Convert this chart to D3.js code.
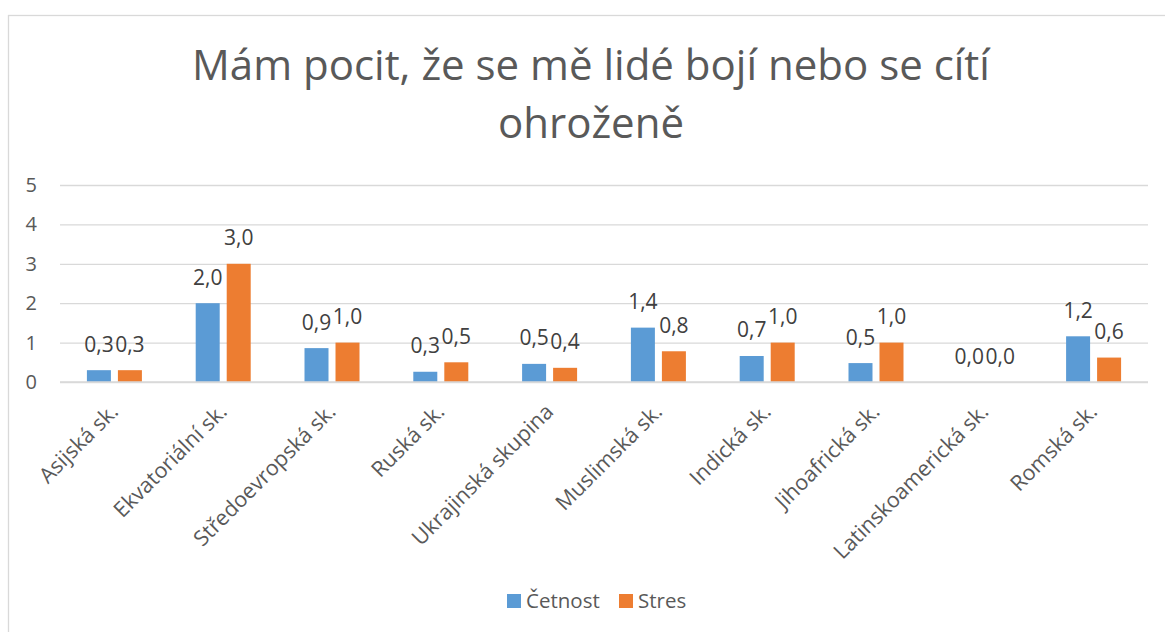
<!DOCTYPE html>
<html>
<head>
<meta charset="utf-8">
<script src="https://cdn.jsdelivr.net/npm/d3@7"></script>
<style>
  body { margin: 0; background: #fff; }
  text { font-family: "Open Sans", sans-serif; }
</style>
</head>
<body>
<div id="chart"></div>
<script>
// data
var categories = ["Asijská sk.", "Ekvatoriální sk.", "Středoevropská sk.", "Ruská sk.",
  "Ukrajinská skupina", "Muslimská sk.", "Indická sk.", "Jihoafrická sk.",
  "Latinskoamerická sk.", "Romská sk."];
var seriesNames = ["Četnost", "Stres"];
var cetnost = [0.3, 2.0, 0.86, 0.26, 0.46, 1.38, 0.66, 0.48, 0, 1.16];
var stres = [0.3, 3.0, 1.0, 0.5, 0.36, 0.78, 1.0, 1.0, 0, 0.62];
var yTicks = [0, 1, 2, 3, 4, 5];
var titleLines = ["Mám pocit, že se mě lidé bojí nebo se cítí", "ohroženě"];

var colors = ["#5b9bd5", "#ed7d31"];
var svgWidth = 1165, svgHeight = 632;
var margin = { top: 185, right: 17, bottom: 250, left: 60 };
var width = svgWidth - margin.left - margin.right;
var height = 382 - margin.top;

var svg = d3.select("#chart").append("svg")
  .attr("width", svgWidth)
  .attr("height", svgHeight);

// chart frame (runs off the right and bottom edges)
svg.append("rect")
  .attr("x", 8.5).attr("y", 15.5)
  .attr("width", 1200).attr("height", 700)
  .attr("fill", "none")
  .attr("stroke", "#d9d9d9")
  .attr("stroke-width", 1.3);

// title
svg.append("text")
  .attr("x", 591)
  .attr("y", 80)
  .attr("text-anchor", "middle")
  .attr("font-size", 42)
  .attr("fill", "#595959")
  .selectAll("tspan")
  .data(titleLines)
  .enter()
  .append("tspan")
  .attr("x", 591)
  .attr("dy", (d, i) => i ? 58 : 0)
  .text(d => d);

var g = svg.append("g")
  .attr("transform", `translate(${margin.left}, ${margin.top})`);

var x0 = d3.scaleBand()
  .domain(categories)
  .range([0, width])
  .paddingInner(0.4945)
  .paddingOuter(0.2473);

var x1 = d3.scaleBand()
  .domain(seriesNames)
  .range([0, x0.bandwidth()])
  .paddingInner(0.226);

var y = d3.scaleLinear()
  .domain([0, 5])
  .range([height, 0]);

// gridlines + y labels
var yAxis = g.append("g")
  .call(d3.axisLeft(y).tickValues(yTicks).tickSize(-width).tickPadding(23).tickFormat(d3.format("d")));
yAxis.select(".domain").remove();
yAxis.selectAll("line").attr("stroke", "#d9d9d9").attr("stroke-width", 1.3);
yAxis.selectAll("text")
  .attr("font-size", 20)
  .attr("fill", "#595959")
  .style("font-family", "'Open Sans', sans-serif");

var rows = categories.map((c, i) => ({
  cat: c,
  vals: [
    { s: seriesNames[0], v: cetnost[i], c: colors[0] },
    { s: seriesNames[1], v: stres[i], c: colors[1] }
  ]
}));

var groups = g.selectAll(".grp")
  .data(rows)
  .enter()
  .append("g")
  .attr("class", "grp")
  .attr("transform", d => `translate(${x0(d.cat)}, 0)`);

groups.selectAll("rect")
  .data(d => d.vals)
  .enter()
  .append("rect")
  .attr("x", d => x1(d.s))
  .attr("y", d => y(d.v))
  .attr("width", x1.bandwidth())
  .attr("height", d => height - y(d.v))
  .attr("fill", d => d.c);

var fmt = v => d3.format(".1f")(v).replace(".", ",");

groups.selectAll(".lbl")
  .data(d => d.vals)
  .enter()
  .append("text")
  .attr("class", "lbl")
  .attr("x", d => x1(d.s) + x1.bandwidth() / 2)
  .attr("y", d => y(d.v) - 18.5)
  .attr("text-anchor", "middle")
  .attr("font-size", 21)
  .attr("fill", "#404040")
  .text(d => fmt(d.v));

// x axis line
g.append("line")
  .attr("x1", 0).attr("x2", width)
  .attr("y1", height).attr("y2", height)
  .attr("stroke", "#d9d9d9")
  .attr("stroke-width", 1.3);

// rotated category labels
g.selectAll(".xl")
  .data(categories)
  .enter()
  .append("text")
  .attr("class", "xl")
  .attr("text-anchor", "end")
  .attr("font-size", 21.5)
  .attr("fill", "#595959")
  .attr("transform", d => `translate(${x0(d) + x0.bandwidth() / 2 + 5}, ${height + 31}) rotate(-45)`)
  .text(d => d);

// legend
var legend = svg.append("g").attr("transform", "translate(507, 594)");
var items = [
  { name: seriesNames[0], c: colors[0], x: 0 },
  { name: seriesNames[1], c: colors[1], x: 112 }
];
var li = legend.selectAll("g")
  .data(items)
  .enter()
  .append("g")
  .attr("transform", d => `translate(${d.x}, 0)`);
li.append("rect")
  .attr("width", 14).attr("height", 14)
  .attr("fill", d => d.c);
li.append("text")
  .attr("x", 19)
  .attr("y", 14)
  .attr("font-size", 20.5)
  .attr("fill", "#595959")
  .text(d => d.name);
</script>
</body>
</html>
